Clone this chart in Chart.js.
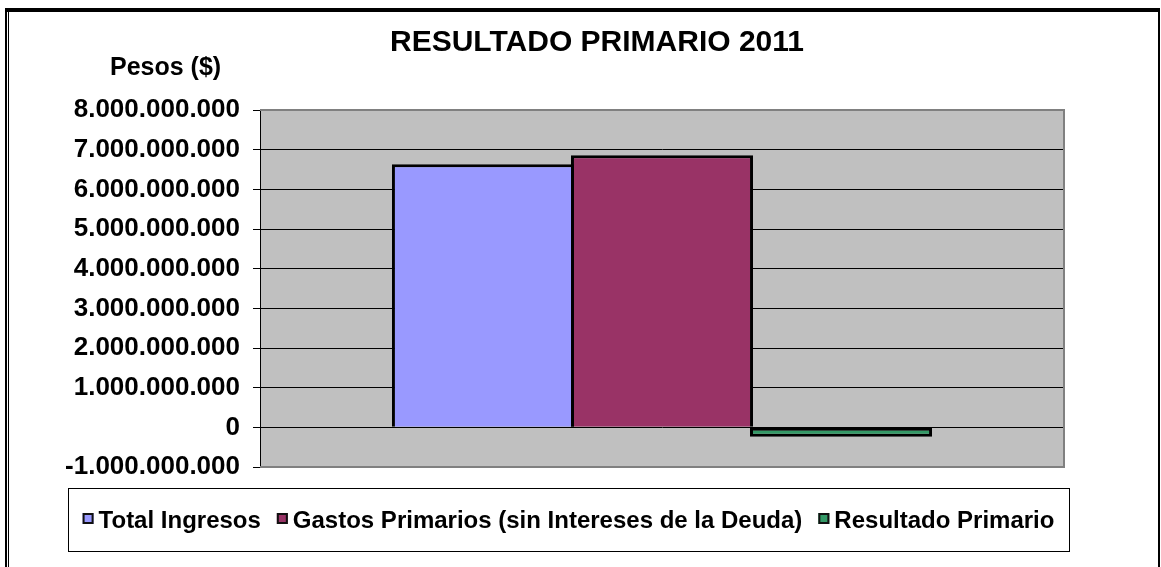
<!DOCTYPE html>
<html>
<head>
<meta charset="utf-8">
<script src="https://cdn.jsdelivr.net/npm/chart.js@4/dist/chart.umd.min.js"></script>
<style>
  html, body { margin: 0; padding: 0; background: #fff; }
  #wrap { position: relative; width: 1161px; height: 567px; }
</style>
</head>
<body>
<div id="wrap"><canvas id="resultadoChart"></canvas></div>
<script>
// Data
var categories = ['2011'];
var seriesNames = ['Total Ingresos', 'Gastos Primarios (sin Intereses de la Deuda)', 'Resultado Primario'];
var totalIngresos = [6630000000];
var gastosPrimarios = [6860000000];
var resultadoPrimario = [-240000000];
var seriesColors = ['#9999FF', '#993366', '#339966'];
var yMin = -1000000000;
var yMax = 8000000000;
var yStep = 1000000000;

var titleText = 'RESULTADO PRIMARIO 2011';
var yTitleText = 'Pesos ($)';
var fontName = 'Arial, "Liberation Sans", sans-serif';

// Format numbers with dots as thousand separators
function formatPesos(v) {
  if (v === 0) return '0';
  var s = String(Math.abs(Math.round(v))).replace(/\B(?=(\d{3})+(?!\d))/g, '.');
  return (v < 0 ? '-' : '') + s;
}

// Background, frame, title and legend box drawn around the chart area
var decorPlugin = {
  id: 'decor',
  beforeDraw: function (chart) {
    var c = chart.ctx;
    var a = chart.chartArea;
    c.save();
    c.fillStyle = '#fff';
    c.fillRect(0, 0, chart.width, chart.height);
    // plot background
    c.fillStyle = '#C0C0C0';
    c.fillRect(a.left, a.top, a.right - a.left, a.bottom - a.top);
    c.restore();
  },
  afterDraw: function (chart) {
    var c = chart.ctx;
    var a = chart.chartArea;
    c.save();

    // gray plot border (top, right, bottom)
    c.strokeStyle = '#808080';
    c.lineWidth = 2;
    c.beginPath();
    c.moveTo(a.left, a.top);
    c.lineTo(a.right, a.top);
    c.lineTo(a.right, a.bottom);
    c.lineTo(a.left, a.bottom);
    c.stroke();

    // outer frame
    c.fillStyle = '#000';
    c.fillRect(5, 8, 1155, 4);
    c.fillRect(5, 8, 2, 559);
    c.fillRect(8, 12, 1, 555);
    c.fillRect(1158, 8, 2, 559);

    // title and axis name
    c.fillStyle = '#000';
    c.textBaseline = 'alphabetic';
    c.textAlign = 'center';
    c.font = 'bold 30px ' + fontName;
    c.fillText(titleText, 597, 51);
    c.textAlign = 'left';
    c.font = 'bold 25px ' + fontName;
    c.fillText(yTitleText, 110, 75);

    // legend box
    var boxL = 68, boxT = 488, boxR = 1069, boxB = 551;
    c.strokeStyle = '#000';
    c.lineWidth = 1;
    c.strokeRect(boxL + 0.5, boxT + 0.5, boxR - boxL, boxB - boxT);

    c.font = 'bold 24px ' + fontName;
    var marker = 11, gapIn = 5, gapOut = 16;
    var total = 0;
    var widths = chart.data.datasets.map(function (ds) {
      return c.measureText(ds.label).width;
    });
    widths.forEach(function (w, i) {
      total += marker + gapIn + w + (i < widths.length - 1 ? gapOut : 0);
    });
    var x = (boxL + boxR) / 2 - total / 2;
    var baseY = 528;
    chart.data.datasets.forEach(function (ds, i) {
      c.fillStyle = ds.backgroundColor;
      c.fillRect(x, baseY - 15, marker, marker);
      c.strokeStyle = '#111';
      c.lineWidth = 2;
      c.strokeRect(x + 1, baseY - 14, marker - 2, marker - 2);
      c.fillStyle = '#000';
      c.textAlign = 'left';
      c.fillText(ds.label, x + marker + gapIn, baseY);
      x += marker + gapIn + widths[i] + gapOut;
    });

    c.restore();
  }
};

var ctx = document.getElementById('resultadoChart').getContext('2d');

var chartInstance = new Chart(ctx, {
  type: 'bar',
  data: {
    labels: categories,
    datasets: [{
      label: seriesNames[0],
      data: totalIngresos,
      backgroundColor: seriesColors[0],
      borderSkipped: 'start'
    },
    {
      label: seriesNames[1],
      data: gastosPrimarios,
      backgroundColor: seriesColors[1],
      borderSkipped: 'start'
    },
    {
      label: seriesNames[2],
      data: resultadoPrimario,
      backgroundColor: seriesColors[2],
      borderSkipped: false
    }]
  },
  options: {
    responsive: true,
    maintainAspectRatio: false,
    animation: false,
    categoryPercentage: 0.668,
    barPercentage: 1.017,
    datasets: {
      bar: {
        borderColor: '#000',
        borderWidth: 3
      }
    },
    layout: {
      padding: { left: 0, top: 110, right: 97, bottom: 100 }
    },
    plugins: {
      legend: { display: false },
      title: { display: false },
      tooltip: { enabled: false }
    },
    scales: {
      x: {
        display: false
      },
      y: {
        min: yMin,
        max: yMax,
        afterFit: function (scale) { scale.width = 260; },
        ticks: {
          stepSize: yStep,
          color: '#000',
          padding: 13,
          font: { family: fontName, size: 26, weight: 'bold' },
          callback: function (v) { return formatPesos(v); }
        },
        grid: {
          color: '#000',
          lineWidth: 1,
          tickLength: 7,
          drawTicks: true
        },
        border: { color: '#000', width: 1 }
      }
    }
  },
  plugins: [decorPlugin]
});
</script>
</body>
</html>
